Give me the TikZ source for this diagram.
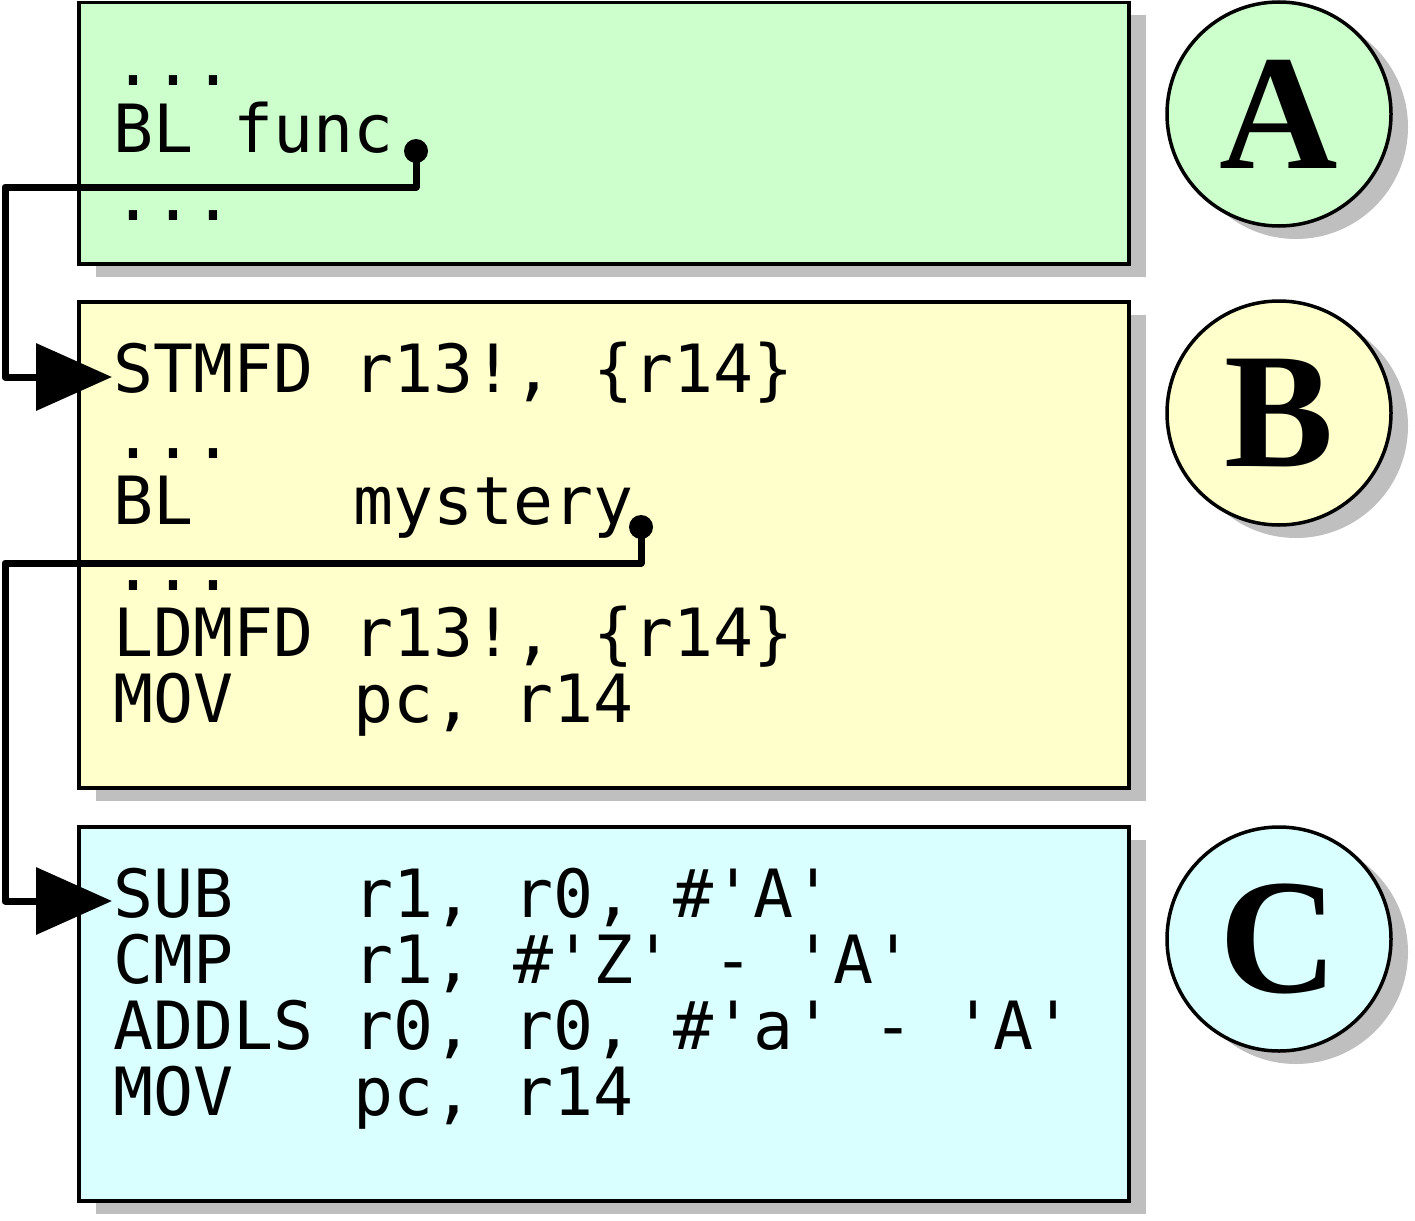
\documentclass[tikz,border=0pt]{standalone}
\usepackage{fontspec}
\setmonofont{DejaVu Sans Mono}
\newfontfamily\letterfont{Liberation Serif}
\usetikzlibrary{arrows.meta,shadows}
\definecolor{shadowgray}{RGB}{191,191,191}
\definecolor{fillA}{RGB}{204,255,204}
\definecolor{fillB}{RGB}{255,255,204}
\definecolor{fillC}{RGB}{217,255,255}
\tikzset{
  dshadow/.style={drop shadow={shadow xshift=17pt,shadow yshift=-13pt,fill=shadowgray,opacity=1}},
  codebox/.style={draw=black,line width=3.5pt,rectangle,inner sep=0pt,minimum width=1050pt,dshadow},
  badge/.style={draw=black,line width=3.5pt,circle,inner sep=0pt,minimum size=224pt,dshadow,
    font=\letterfont\bfseries\fontsize{164}{164}\selectfont},
  code/.style={anchor=base west,inner sep=0pt,font=\ttfamily\fontsize{66.5}{66}\selectfont},
  dotnode/.style={circle,fill=black,inner sep=0pt,minimum size=24pt},
  wire/.style={line width=7pt,line join=round,-{Triangle[length=76pt,width=66pt]}}
}
\begin{document}
\begin{tikzpicture}[x=1pt,y=-1pt]
\useasboundingbox (0,0) rectangle (1415,1220);
% boxes
\node[codebox,fill=fillA,minimum height=261.5pt] (boxA) at (604,133.25) {};
\node[codebox,fill=fillB,minimum height=486pt] (boxB) at (604,545) {};
\node[codebox,fill=fillC,minimum height=374pt] (boxC) at (604,1014) {};
% badges
\node[badge,fill=fillA] (cA) at (1279,114) {A};
\node[badge,fill=fillB] (cB) at (1279,413) {B};
\node[badge,fill=fillC] (cC) at (1279,939) {C};
% code A
\node[code] (a1) at (113,86) {...};
\node[code] (a2) at (113,153) {BL func};
\node[code] (a3) at (113,220) {...};
% code B
\node[code] (b1) at (113,392) {STMFD r13!, \{r14\}};
\node[code] (b2) at (113,458) {...};
\node[code] (b3) at (113,524) {BL~~~~mystery};
\node[code] (b4) at (113,590) {...};
\node[code] (b5) at (113,656) {LDMFD r13!, \{r14\}};
\node[code] (b6) at (113,722) {MOV~~~pc, r14};
% code C
\node[code] (c1) at (113,917) {SUB~~~r1, r0, \#'A'};
\node[code] (c2) at (113,983) {CMP~~~r1, \#'Z' - 'A'};
\node[code] (c3) at (113,1049) {ADDLS r0, r0, \#'a' - 'A'};
\node[code] (c4) at (113,1115) {MOV~~~pc, r14};
% connectors
\node[dotnode] (d1) at (416,151) {};
\node[dotnode] (d2) at (641,527) {};
\coordinate (inB) at (112,377);
\coordinate (inC) at (112,901);
\draw[wire] (d1.center) |- (5,187) |- (inB);
\draw[wire] (d2.center) |- (5,563) |- (inC);
\end{tikzpicture}
\end{document}
